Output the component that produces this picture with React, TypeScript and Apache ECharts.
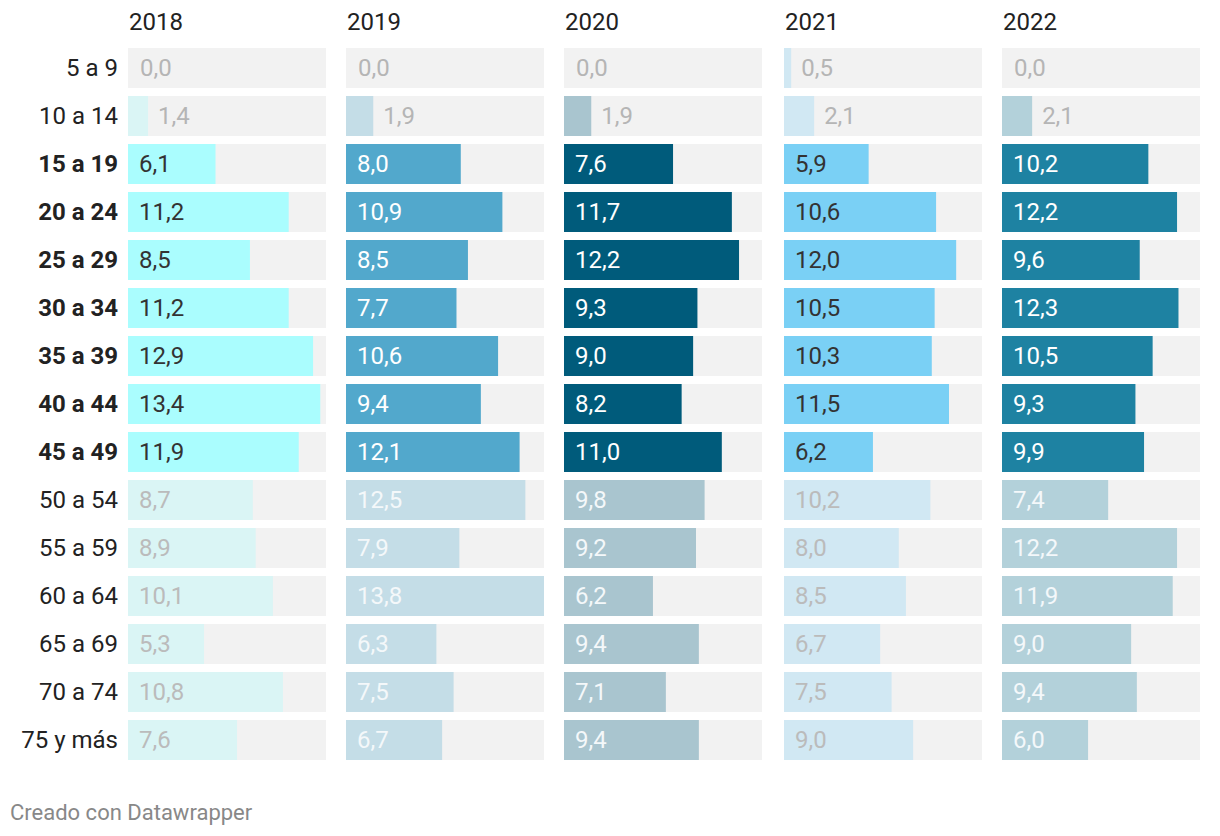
import React, { useEffect, useRef } from "react";
import * as echarts from "echarts";

const ageGroups = ["5 a 9", "10 a 14", "15 a 19", "20 a 24", "25 a 29", "30 a 34", "35 a 39", "40 a 44", "45 a 49", "50 a 54", "55 a 59", "60 a 64", "65 a 69", "70 a 74", "75 y más"];
const years = ["2018", "2019", "2020", "2021", "2022"];
const v2018 = [0.0, 1.4, 6.1, 11.2, 8.5, 11.2, 12.9, 13.4, 11.9, 8.7, 8.9, 10.1, 5.3, 10.8, 7.6];
const v2019 = [0.0, 1.9, 8.0, 10.9, 8.5, 7.7, 10.6, 9.4, 12.1, 12.5, 7.9, 13.8, 6.3, 7.5, 6.7];
const v2020 = [0.0, 1.9, 7.6, 11.7, 12.2, 9.3, 9.0, 8.2, 11.0, 9.8, 9.2, 6.2, 9.4, 7.1, 9.4];
const v2021 = [0.5, 2.1, 5.9, 10.6, 12.0, 10.5, 10.3, 11.5, 6.2, 10.2, 8.0, 8.5, 6.7, 7.5, 9.0];
const v2022 = [0.0, 2.1, 10.2, 12.2, 9.6, 12.3, 10.5, 9.3, 9.9, 7.4, 12.2, 11.9, 9.0, 9.4, 6.0];
const highlighted = ["15 a 19", "20 a 24", "25 a 29", "30 a 34", "35 a 39", "40 a 44", "45 a 49"];

const allValues = [v2018, v2019, v2020, v2021, v2022];
const strongColors = ["#aafdfe", "#52a8cc", "#005b7b", "#7ad0f5", "#1e82a2"];
const softColors = ["#daf5f5", "#c4dde7", "#a9c5cf", "#d1e8f3", "#b3d1da"];
const strongLabel = ["#333333", "#ffffff", "#ffffff", "#333333", "#ffffff"];
const softLabel = ["#bbbbbb", "#f4f8fa", "#f4f8fa", "#bbbbbb", "#f4f8fa"];

const FONT = "Roboto, 'Noto Sans', sans-serif";
const gridLefts = [128, 346, 564, 784, 1002];
const gridWidth = 198;

export default function App() {
  const ref = useRef<HTMLDivElement>(null);
  useEffect(() => {
    if (!ref.current) return;
    const chart = echarts.init(ref.current, null, { renderer: "svg" });
    const maxVal = Math.max(...allValues.flat());
    const grids = years.map((_, i) => ({ left: gridLefts[i], top: 44, width: gridWidth, height: 720 }));
    const xAxes = years.map((_, i) => ({
      type: "value" as const, gridIndex: i, min: 0, max: maxVal, show: false,
    }));
    const yAxes = years.map((_, i) => ({
      type: "category" as const, gridIndex: i, data: ageGroups, inverse: true,
      axisLine: { show: false }, axisTick: { show: false }, splitLine: { show: false },
      axisLabel: i === 0 ? {
        show: true, margin: 10,
        formatter: (v: string) => (highlighted.includes(v) ? `{b|${v}}` : `{n|${v}}`),
        rich: {
          b: { fontFamily: FONT, fontSize: 24, fontWeight: "bold", color: "#222222" },
          n: { fontFamily: FONT, fontSize: 24, color: "#222222" },
        },
      } : { show: false },
    }));
    const series = years.map((y, i) => ({
      type: "bar" as const, name: y, xAxisIndex: i, yAxisIndex: i, barWidth: 40,
      showBackground: true, backgroundStyle: { color: "#f2f2f2" },
      data: allValues[i].map((v, k) => {
        const hi = highlighted.includes(ageGroups[k]);
        const outside = v < 3;
        return {
          value: v,
          itemStyle: { color: hi ? strongColors[i] : softColors[i] },
          label: {
            show: true,
            position: outside ? "right" : "insideLeft",
            distance: outside ? (v === 0 ? 12 : 10) : 11,
            formatter: v.toFixed(1).replace(".", ","),
            fontFamily: FONT, fontSize: 24,
            color: outside ? "#b5b5b5" : hi ? strongLabel[i] : softLabel[i],
          },
        };
      }),
    }));
    const graphic = [
      ...years.map((y, i) => ({
        type: "text" as const, x: gridLefts[i] + 1, y: 22,
        style: { text: y, fill: "#222222", font: `24px ${FONT}`, verticalAlign: "middle" },
      })),
      {
        type: "text" as const, x: 10, y: 812,
        style: { text: "Creado con Datawrapper", fill: "#888888", font: `22px ${FONT}`, verticalAlign: "middle" },
      },
    ];
    chart.setOption({ animation: false, grid: grids, xAxis: xAxes, yAxis: yAxes, series, graphic });
    return () => chart.dispose();
  }, []);
  return <div ref={ref} style={{ position: "absolute", left: 0, top: 0, width: 1220, height: 836, background: "#fff" }} />;
}
